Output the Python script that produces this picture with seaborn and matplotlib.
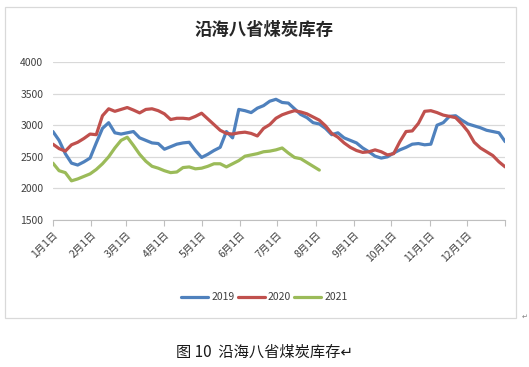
import numpy as np
import pandas as pd
import seaborn as sns
import matplotlib.pyplot as plt
from matplotlib.patches import Rectangle

sns.set_style("white")
plt.rcParams["font.family"] = ["Noto Sans CJK SC", "DejaVu Sans"]

# 沿海八省煤炭库存, 每5天读一个值 (万吨)
stock_2019 = [2900, 2760, 2550, 2400, 2370, 2420, 2480, 2720, 2950, 3040,
              2880, 2860, 2880, 2900, 2800, 2760, 2720, 2710, 2620, 2660,
              2700, 2720, 2730, 2600, 2490, 2540, 2600, 2650, 2900, 2800,
              3250, 3230, 3200, 3270, 3310, 3380, 3410, 3360, 3350, 3260,
              3170, 3120, 3040, 3020, 2950, 2850, 2880, 2800, 2760, 2720,
              2640, 2580, 2510, 2480, 2500, 2560, 2610, 2650, 2700, 2710,
              2690, 2700, 3000, 3040, 3140, 3150, 3080, 3020, 2990, 2960,
              2920, 2900, 2880, 2740]
stock_2020 = [2700, 2630, 2590, 2690, 2730, 2790, 2860, 2850, 3150, 3260,
              3220, 3250, 3280, 3240, 3195, 3250, 3260, 3230, 3180, 3090,
              3110, 3110, 3100, 3140, 3190, 3100, 3010, 2920, 2870, 2860,
              2880, 2890, 2870, 2830, 2950, 3010, 3110, 3165, 3200, 3230,
              3210, 3180, 3130, 3080, 2990, 2870, 2810, 2720, 2650, 2600,
              2570, 2580, 2610, 2580, 2530, 2550, 2740, 2900, 2910, 3030,
              3220, 3230, 3200, 3160, 3140, 3120, 3020, 2900, 2730, 2640,
              2580, 2520, 2420, 2340]
stock_2021 = [2400, 2280, 2250, 2120, 2150, 2190, 2230, 2300, 2390, 2500,
              2640, 2760, 2810, 2680, 2540, 2430, 2350, 2320, 2280, 2250,
              2260, 2330, 2340, 2310, 2320, 2350, 2390, 2390, 2340, 2390,
              2440, 2510, 2530, 2550, 2580, 2590, 2610, 2640, 2560, 2490,
              2470, 2410, 2350, 2290]

years = ["2019", "2020", "2021"]
colors = ["#4F81BD", "#C0504D", "#9BBB59"]
month_labels = [f"{m}月1日" for m in range(1, 13)]
y_ticks = [1500, 2000, 2500, 3000, 3500, 4000]

frames = []
for year, vals in zip(years, [stock_2019, stock_2020, stock_2021]):
    dates = pd.date_range("2019-01-01", periods=len(vals), freq="5D")
    frames.append(pd.DataFrame({"日期": dates, "库存": vals, "年份": year}))
df = pd.concat(frames, ignore_index=True)

fig = plt.figure(figsize=(5.29, 3.67), dpi=100)
ax = fig.add_axes([0.100, 0.4005, 0.855, 0.4305])

sns.lineplot(data=df, x="日期", y="库存", hue="年份", palette=colors,
             linewidth=2.3, ax=ax, legend=True)

month_starts = list(pd.date_range("2019-01-01", "2020-01-01", freq="MS"))
ax.set_xlim(month_starts[0], month_starts[-1])
ax.set_ylim(y_ticks[0], y_ticks[-1])
ax.set_xticks(month_starts)
ax.set_xticklabels(month_labels + [""], rotation=45, ha="right",
                   rotation_mode="anchor", fontsize=7.5, color="#404040")
ax.set_yticks(y_ticks)
ax.set_yticklabels([str(v) for v in y_ticks], fontsize=7.5, color="#404040")
ax.tick_params(axis="x", length=4, width=0.8, color="#BFBFBF", direction="out",
               bottom=True, pad=3)
ax.tick_params(axis="y", length=0, pad=7)
ax.grid(axis="y", color="#D9D9D9", linewidth=0.9)
ax.set_axisbelow(True)
for side in ["left", "right", "top"]:
    ax.spines[side].set_visible(False)
ax.spines["bottom"].set_color("#BFBFBF")
ax.set_xlabel("")
ax.set_ylabel("")

handles, labels = ax.get_legend_handles_labels()
ax.get_legend().remove()
fig.legend(handles, labels, loc="center", bbox_to_anchor=(0.5, 0.19), ncol=3,
           frameon=False, handlelength=2.6, handletextpad=0.3,
           columnspacing=0.3, prop={"size": 7.5})
for t in fig.legends[0].get_texts():
    t.set_color("#404040")

fig.text(0.5, 0.918, "沿海八省煤炭库存", ha="center", va="center",
         fontsize=12.5, fontweight="bold", color="#262626")

# 图表外框
fig.patches.append(Rectangle((0.010, 0.134), 0.966, 0.847, transform=fig.transFigure,
                             fill=False, edgecolor="#D9D9D9", linewidth=0.9))
fig.text(0.992, 0.138, "↵", ha="center", va="center", fontsize=5, color="#808080")

fig.text(0.5, 0.041, "图 10  沿海八省煤炭库存↵", ha="center", va="center",
         fontsize=11, color="#1a1a1a")

fig.savefig("out.png", dpi=100)
